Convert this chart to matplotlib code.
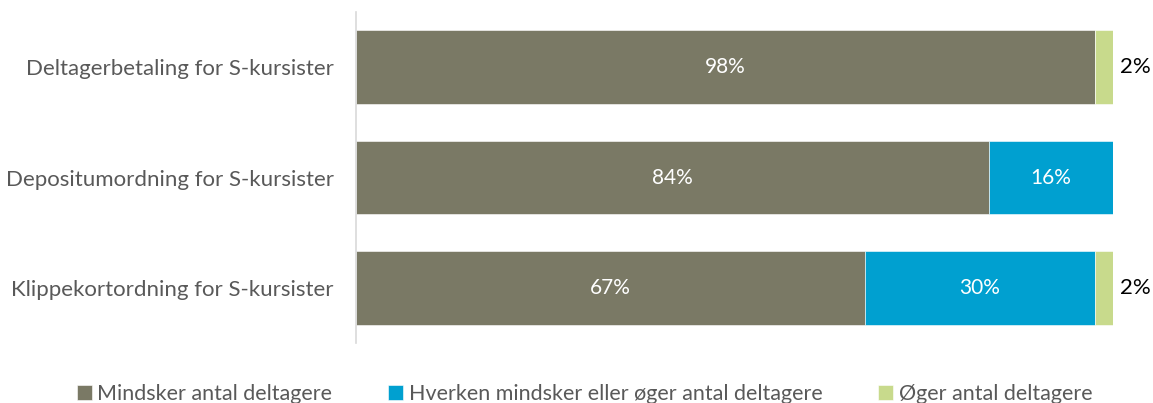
import matplotlib
matplotlib.use("Agg")
import matplotlib.pyplot as plt
import numpy as np

categories = ["Deltagerbetaling for S-kursister",
              "Depositumordning for S-kursister",
              "Klippekortordning for S-kursister"]
series_names = ["Mindsker antal deltagere",
                "Hverken mindsker eller øger antal deltagere",
                "Øger antal deltagere"]
mindsker = [97.6, 83.6, 67.2]
hverken = [0.0, 16.4, 30.4]
oeger = [2.4, 0.0, 2.4]

colors = ["#7a7965", "#00a0d0", "#c8da8c"]

plt.rcParams['font.family'] = ['Lato', 'DejaVu Sans']

fig = plt.figure(figsize=(11.53, 4.03), dpi=100)
ax = fig.add_axes([356/1153, 60/403, (1113-356)/1153, (391-60)/403])

y = np.arange(len(categories))
left = np.zeros(len(categories))
data = [mindsker, hverken, oeger]
for vals, name, col in zip(data, series_names, colors):
    vals = np.array(vals, dtype=float)
    bars = ax.barh(y, vals, left=left, height=0.67, color=col, label=name,
                   edgecolor='white', linewidth=0.4)
    for b, v, l in zip(bars, vals, left):
        if v <= 0:
            continue
        if v >= 5:
            ax.text(l + v/2, b.get_y() + b.get_height()/2, f"{int(round(v))}%",
                    ha='center', va='center', color='white', fontsize=15)
        else:
            ax.text(100.9, b.get_y() + b.get_height()/2, f"{int(round(v))}%",
                    ha='left', va='center', color='#000000', fontsize=16)
    left += vals

ax.set_xlim(0, 100)
ax.set_ylim(2.5, -0.5)
ax.set_yticks(y)
ax.set_yticklabels(categories, fontsize=16, color='#595959')
ax.tick_params(axis='y', length=0, pad=16)
ax.set_xticks([])
for s in ['top', 'right', 'bottom']:
    ax.spines[s].set_visible(False)
ax.spines['left'].set_color('#d9d9d9')
ax.spines['left'].set_linewidth(1.2)

handles, labels = ax.get_legend_handles_labels()
fig.legend(handles, labels, loc='center', bbox_to_anchor=(0.507, 9/403), ncol=3,
           frameon=False, fontsize=15.5, handlelength=0.7, handleheight=0.7,
           handletextpad=0.25, columnspacing=2.6, labelcolor='#595959')

fig.savefig("out.png", dpi=100)
